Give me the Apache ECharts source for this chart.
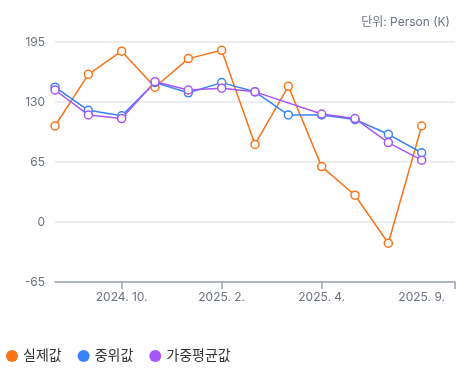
<!DOCTYPE html>
<html>
<head>
<meta charset="utf-8">
<script src="https://cdn.jsdelivr.net/npm/echarts@6/dist/echarts.min.js"></script>
<style>html,body{margin:0;padding:0;background:#fff}#c{width:469px;height:370px}</style>
</head>
<body>
<div id="c"></div>
<script>
const categories = ["2024. 8.","2024. 9.","2024. 10.","2024. 11.","2024. 12.","2025. 2.","2025. 3.","2025. 3. 15.","2025. 4.","2025. 6.","2025. 8.","2025. 9.","2025. 10."];
const actual   = [104, 160, 185, 146, 177, 186, 84, 147, 60, 29, -23, 104];
const median   = [146, 121, 115, 151, 140, 151, 141, 116, 116, 111, 95, 75];
const weighted = [143, 116, 112, 152, 143, 145, 141, null, 117, 112, 86, 67];
const labelIdx = [2, 5, 8, 11];
const tickIdx = [2, 5, 8, 12];
const yTicks = {min: -65, max: 195, interval: 65};

const font = "Inter, 'Noto Sans CJK KR', sans-serif";
const chart = echarts.init(document.getElementById('c'));
function mk(name, data, color) {
  return {
    name, type: 'line', data, connectNulls: true,
    symbol: 'circle', symbolSize: 8,
    lineStyle: {width: 1.5, color},
    itemStyle: {color: '#fff', borderColor: color, borderWidth: 1.5},
    emphasis: {disabled: true}
  };
}
chart.setOption({
  animation: false,
  textStyle: {fontFamily: font},
  grid: {left: 55, right: 14, top: 42, bottom: 88},
  graphic: [{type: 'text', right: 19, top: 16, style: {text: '단위: Person (K)', fill: '#6b7280', font: "12px " + font, textAlign: 'right'}}],
  legend: {
    left: 1, bottom: 2, icon: 'circle', itemWidth: 12, itemHeight: 12, itemGap: 16,
    textStyle: {color: '#333', fontSize: 14, fontFamily: font},
    data: [{name: '실제값', itemStyle: {color: '#f97316', borderWidth: 0}}, {name: '중위값', itemStyle: {color: '#3b82f6', borderWidth: 0}}, {name: '가중평균값', itemStyle: {color: '#a855f7', borderWidth: 0}}]
  },
  xAxis: {
    type: 'category', data: categories, boundaryGap: false,
    axisLine: {onZero: false, lineStyle: {color: '#9ca3af', width: 1.5}},
    axisTick: {show: true, length: 7, lineStyle: {color: '#9ca3af', width: 1.5}, interval: (i) => tickIdx.includes(i)},
    axisLabel: {color: '#6b7280', fontSize: 12, margin: 9, interval: (i) => labelIdx.includes(i)},
    splitLine: {show: false}
  },
  yAxis: {
    type: 'value', min: yTicks.min, max: yTicks.max, interval: yTicks.interval,
    axisLine: {show: false}, axisTick: {show: false},
    axisLabel: {color: '#6b7280', fontSize: 12, margin: 10},
    splitLine: {lineStyle: {color: '#e5e7eb', width: 1.5}}
  },
  series: [mk('실제값', actual, '#f97316'), mk('중위값', median, '#3b82f6'), mk('가중평균값', weighted, '#a855f7')]
});
</script>
</body>
</html>
